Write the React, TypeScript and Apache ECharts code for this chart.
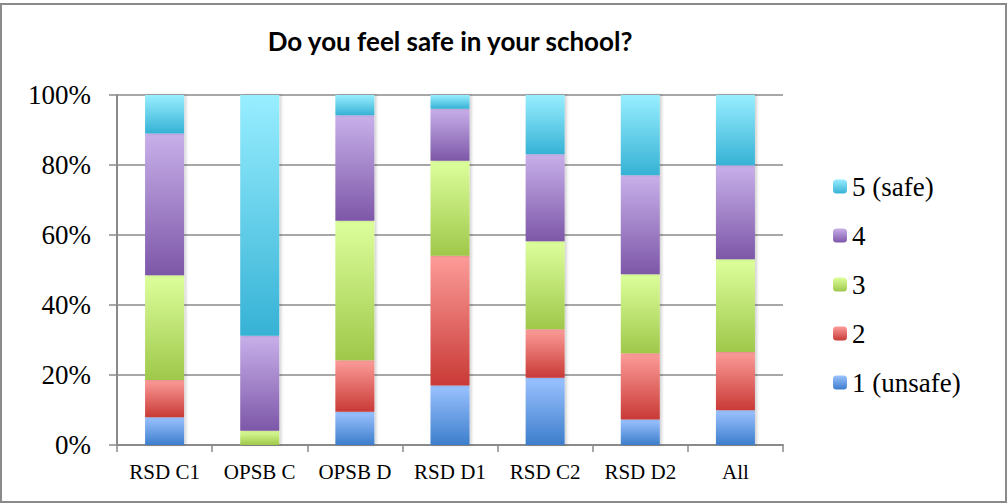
import React, { useEffect, useRef } from "react";
import * as echarts from "echarts";

const categories = ["RSD C1", "OPSB C", "OPSB D", "RSD D1", "RSD C2", "RSD D2", "All"];
const seriesNames = ["1 (unsafe)", "2", "3", "4", "5 (safe)"];
const score1 = [7.9, 0, 9.5, 17.0, 19.2, 7.3, 9.9];
const score2 = [10.7, 0, 14.7, 37.1, 13.9, 18.9, 16.7];
const score3 = [29.9, 4.1, 39.9, 27.1, 25.1, 22.6, 26.5];
const score4 = [40.5, 27.1, 30.1, 14.9, 24.9, 28.3, 26.8];
const score5 = [11.0, 68.8, 5.8, 3.9, 16.9, 22.9, 20.1];
const yTicks = [0, 20, 40, 60, 80, 100];

const gradients: [string, string][] = [
  ["#9BC2FF", "#3D7ECC"],
  ["#FC9C99", "#C93A36"],
  ["#DDFF9C", "#9FC84A"],
  ["#C8B0EA", "#7D57A8"],
  ["#98EEFF", "#36B2D5"],
];

export default function App() {
  const ref = useRef<HTMLDivElement>(null);
  useEffect(() => {
    if (!ref.current) return;
    const chart = echarts.init(ref.current, undefined, { renderer: "svg" });
    const values = [score1, score2, score3, score4, score5];
    const grey = "#8a8a8a";
    const series = values.map((vals, i) => ({
      name: seriesNames[i],
      type: "bar",
      stack: "total",
      barWidth: 39,
      data: vals,
      itemStyle: {
        color: new echarts.graphic.LinearGradient(0, 0, 0, 1, [
          { offset: 0, color: gradients[i][0] },
          { offset: 1, color: gradients[i][1] },
        ]),
        shadowColor: "rgba(0,0,0,0.18)",
        shadowBlur: 3,
        shadowOffsetX: 2,
      },
    }));
    chart.setOption({
      animation: false,
      backgroundColor: "#ffffff",
      title: {
        text: "Do you feel safe in your school?",
        left: 445,
        textAlign: "center",
        top: 23,
        textStyle: {
          fontFamily: "Lato",
          fontWeight: "bold",
          fontSize: 26,
          color: "#000",
        },
      },
      graphic: [
        {
          type: "rect",
          shape: { x: 1, y: 4, width: 1005, height: 498 },
          style: { fill: "none", stroke: grey, lineWidth: 2 },
          silent: true,
        },
      ],
      legend: {
        orient: "vertical",
        left: 828,
        top: 168,
        data: seriesNames.slice().reverse(),
        itemWidth: 14,
        itemHeight: 14,
        itemGap: 22,
        textStyle: {
          fontFamily: "Liberation Serif",
          fontSize: 27,
          lineHeight: 25,
          color: "#000",
        },
      },
      grid: { left: 117, right: 225, top: 95, bottom: 59, containLabel: false },
      xAxis: {
        type: "category",
        data: categories,
        axisLine: { lineStyle: { color: grey, width: 2 } },
        axisTick: { show: true, length: 7, lineStyle: { color: grey, width: 1.5 } },
        axisLabel: {
          interval: 0,
          fontFamily: "Liberation Serif",
          fontSize: 21,
          color: "#000",
          margin: 16,
        },
      },
      yAxis: {
        type: "value",
        min: yTicks[0],
        max: yTicks[yTicks.length - 1],
        interval: 20,
        axisLine: { show: true, lineStyle: { color: grey, width: 2 } },
        axisTick: { show: true, length: 8, lineStyle: { color: grey, width: 1.5 } },
        splitLine: { lineStyle: { color: grey, width: 1.5 } },
        axisLabel: {
          formatter: "{value}%",
          fontFamily: "Liberation Serif",
          fontSize: 27,
          color: "#000",
          margin: 26,
        },
      },
      series,
    });
    return () => chart.dispose();
  }, []);
  return (
    <div
      ref={ref}
      style={{ position: "fixed", left: 0, top: 0, width: 1008, height: 504 }}
    />
  );
}
